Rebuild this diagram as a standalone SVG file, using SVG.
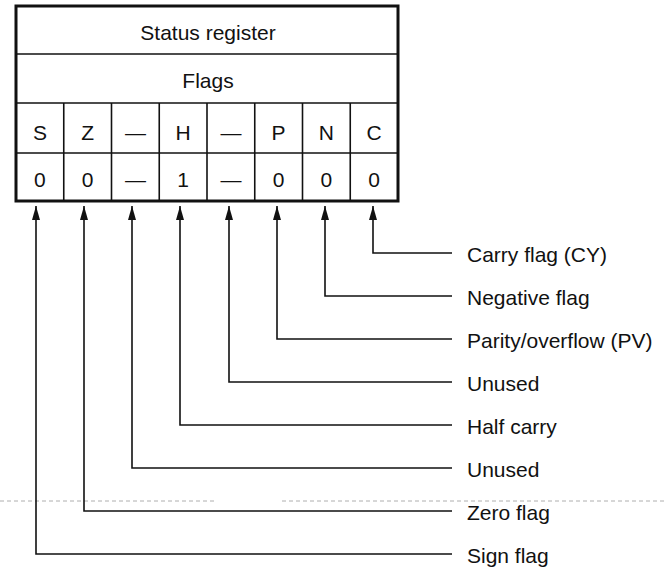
<svg xmlns="http://www.w3.org/2000/svg" width="666" height="569" viewBox="0 0 666 569">
<defs>
<style>
text{font-family:"Liberation Sans",Arial,sans-serif;font-size:21px;fill:#111}
.c{text-anchor:middle}
.outer{fill:#fff;stroke:#111;stroke-width:3}
.inner{stroke:#111;stroke-width:1.6;fill:none}
.conn{stroke:#111;stroke-width:1.6;fill:none}
.scan{stroke:#9a9a9a;stroke-width:0.8;stroke-dasharray:4 3;fill:none}
</style>
<marker id="ah" viewBox="0 0 14 8" refX="14" refY="4" markerWidth="14" markerHeight="8" markerUnits="userSpaceOnUse" orient="auto">
<path d="M0,0 L14,4 L0,8 Z" fill="#111"/>
</marker>
</defs>
<line class="scan" x1="0" y1="501" x2="215" y2="501"/>
<line class="scan" x1="282" y1="501" x2="666" y2="501"/>
<g id="register">
<rect class="outer" x="16" y="6" width="382" height="195"/>
<line class="inner" x1="16" y1="54" x2="398" y2="54"/>
<line class="inner" x1="16" y1="103" x2="398" y2="103"/>
<line class="inner" x1="16" y1="153" x2="398" y2="153"/>
<line class="inner" x1="63.75" y1="103" x2="63.75" y2="201"/>
<line class="inner" x1="111.5" y1="103" x2="111.5" y2="201"/>
<line class="inner" x1="159.25" y1="103" x2="159.25" y2="201"/>
<line class="inner" x1="207" y1="103" x2="207" y2="201"/>
<line class="inner" x1="254.75" y1="103" x2="254.75" y2="201"/>
<line class="inner" x1="302.5" y1="103" x2="302.5" y2="201"/>
<line class="inner" x1="350.25" y1="103" x2="350.25" y2="201"/>
<text class="c" x="208" y="40">Status register</text>
<text class="c" x="208" y="88">Flags</text>
<text class="c" x="39.9" y="140">S</text>
<text class="c" x="87.6" y="140">Z</text>
<text class="c" x="135.4" y="140">—</text>
<text class="c" x="183.1" y="140">H</text>
<text class="c" x="230.9" y="140">—</text>
<text class="c" x="278.6" y="140">P</text>
<text class="c" x="326.4" y="140">N</text>
<text class="c" x="374.1" y="140">C</text>
<text class="c" x="39.9" y="187">0</text>
<text class="c" x="87.6" y="187">0</text>
<text class="c" x="135.4" y="187">—</text>
<text class="c" x="183.1" y="187">1</text>
<text class="c" x="230.9" y="187">—</text>
<text class="c" x="278.6" y="187">0</text>
<text class="c" x="326.4" y="187">0</text>
<text class="c" x="374.1" y="187">0</text>
</g>
<g id="connectors">
<path class="conn" marker-end="url(#ah)" d="M452,253 H373 V206"/>
<path class="conn" marker-end="url(#ah)" d="M452,296 H325 V206"/>
<path class="conn" marker-end="url(#ah)" d="M452,339 H277 V206"/>
<path class="conn" marker-end="url(#ah)" d="M452,382 H229 V206"/>
<path class="conn" marker-end="url(#ah)" d="M452,425 H180 V206"/>
<path class="conn" marker-end="url(#ah)" d="M452,468 H132 V206"/>
<path class="conn" marker-end="url(#ah)" d="M452,511 H84 V206"/>
<path class="conn" marker-end="url(#ah)" d="M452,554 H36 V206"/>
</g>
<g id="label-carry"><text x="467" y="262">Carry flag (CY)</text></g>
<g id="label-negative"><text x="467" y="305">Negative flag</text></g>
<g id="label-parity"><text x="467" y="348">Parity/overflow (PV)</text></g>
<g id="label-unused-1"><text x="467" y="391">Unused</text></g>
<g id="label-halfcarry"><text x="467" y="434">Half carry</text></g>
<g id="label-unused-2"><text x="467" y="477">Unused</text></g>
<g id="label-zero"><text x="467" y="520">Zero flag</text></g>
<g id="label-sign"><text x="467" y="563">Sign flag</text></g>
</svg>
